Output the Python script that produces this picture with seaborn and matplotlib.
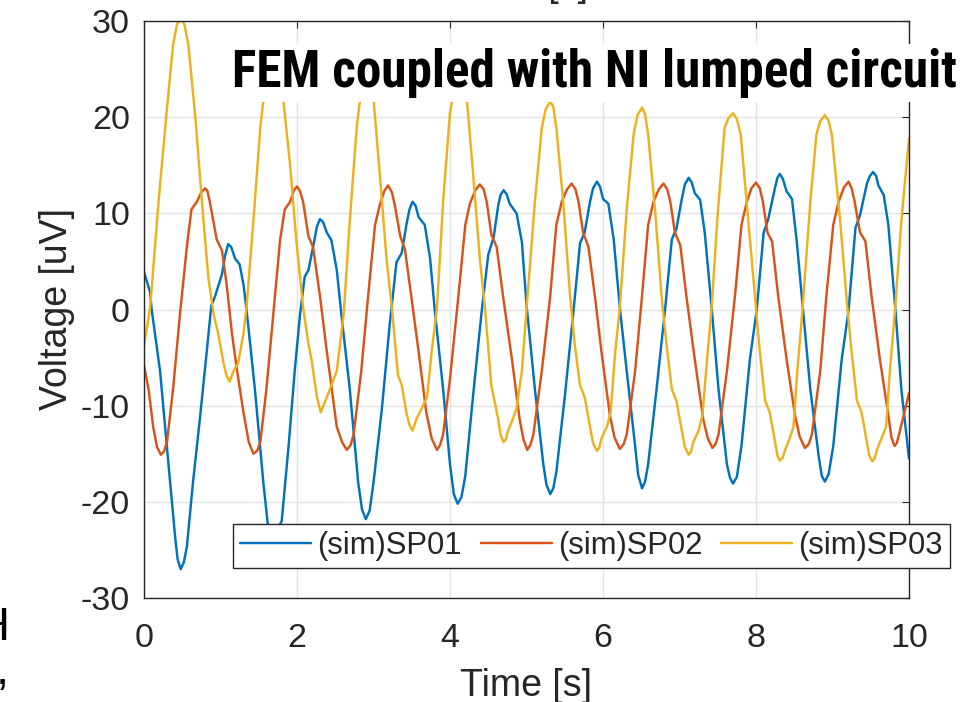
import numpy as np
import pandas as pd
import seaborn as sns
import matplotlib
matplotlib.use("Agg")
import matplotlib.pyplot as plt
from matplotlib import font_manager
from matplotlib.lines import Line2D

# ---------------- data ----------------
sp01_t = [0, 0.08, 0.10, 0.21, 0.32, 0.41, 0.48, 0.56, 0.64, 0.73, 0.82, 0.88, 0.93,
          1.02, 1.10, 1.19, 1.25, 1.30, 1.34, 1.45, 1.56, 1.67, 1.80, 1.89, 1.97,
          2.04, 2.10, 2.15, 2.21, 2.30, 2.39, 2.45, 2.52, 2.58, 2.69, 2.80, 2.90,
          3.00, 3.11, 3.21, 3.30, 3.37, 3.43, 3.51, 3.59, 3.67, 3.74, 3.80, 3.91,
          4.00, 4.10, 4.20, 4.30, 4.41, 4.50, 4.57, 4.63, 4.70, 4.78, 4.87, 4.94,
          5.00, 5.11, 5.22, 5.31, 5.39, 5.50, 5.61, 5.70, 5.76, 5.83, 5.92, 6.00,
          6.07, 6.14, 6.22, 6.31, 6.42, 6.51, 6.59, 6.70, 6.81, 6.90, 6.96, 7.03,
          7.12, 7.20, 7.27, 7.33, 7.42, 7.51, 7.62, 7.70, 7.81, 7.92, 8.01, 8.10,
          8.16, 8.25, 8.31, 8.40, 8.47, 8.53, 8.62, 8.71, 8.82, 8.90, 9.01, 9.12,
          9.21, 9.30, 9.36, 9.45, 9.53, 9.60, 9.67, 9.73, 9.82, 9.90, 10.0,
          0.44, 0.52, 1.63, 1.71, 2.85, 2.95, 4.05, 4.15, 5.26, 5.35, 6.46, 6.55,
          7.66, 7.75, 8.86, 8.95, 1.06, 1.14, 2.26, 2.34, 3.47, 3.55, 4.66, 4.74,
          5.87, 5.96, 7.07, 7.16, 8.28, 8.35, 9.49, 9.57]
sp01_v = [3.9, 1.8, 0.0, -6.4, -16.1, -23.9, -27.0, -24.7, -18.0, -11.4, -4.4, 0.4, 1.4,
          3.7, 6.8, 5.3, 4.7, 2.6, 0.0, -8.3, -18.0, -24.0, -22.0, -14.2, -6.4,
          -0.5, 3.4, 4.1, 6.5, 9.4, 8.0, 7.2, 4.1, -0.5, -8.3, -18.0, -21.8,
          -18.0, -10.3, -1.7, 4.9, 5.9, 8.8, 11.2, 9.6, 8.8, 5.3, 0.0, -8.3,
          -16.1, -20.2, -17.3, -9.1, -0.5, 5.7, 7.5, 10.8, 12.4, 11.0, 10.0, 7.0,
          0.5, -8.3, -16.1, -19.2, -16.9, -9.1, -0.5, 6.9, 8.0, 11.2, 13.3, 11.5,
          11.0, 7.3, 0.2, -6.4, -14.2, -18.6, -16.1, -8.3, -0.1, 7.3, 8.4, 11.5,
          13.7, 12.1, 11.4, 8.0, 0.2, -8.3, -16.1, -18.1, -14.2, -5.2, 0.0, 8.0,
          9.4, 12.7, 14.1, 12.3, 11.5, 7.3, -0.5, -8.3, -15.3, -17.9, -14.2, -5.2,
          -0.1, 8.5, 9.8, 13.1, 14.3, 12.9, 11.9, 8.8, 0.2, -8.3, -15.5,
          -26.0, -26.3, -23.2, -23.4, -20.8, -20.9, -19.2, -19.5, -18.2, -18.6, -17.2, -17.9,
          -17.5, -17.4, -17.3, -17.1, 5.6, 6.5, 8.6, 9.1, 10.4, 10.8, 11.9, 12.0,
          12.6, 12.8, 13.0, 13.2, 13.7, 13.6, 13.9, 13.9]

sp02_t = [0, 0.06, 0.12, 0.22, 0.30, 0.38, 0.47, 0.56, 0.62, 0.69, 0.80, 0.86, 0.95,
          1.02, 1.08, 1.15, 1.21, 1.30, 1.43, 1.52, 1.60, 1.69, 1.78, 1.84, 1.91,
          2.00, 2.08, 2.15, 2.21, 2.30, 2.39, 2.52, 2.65, 2.74, 2.84, 2.93, 3.02,
          3.08, 3.19, 3.28, 3.35, 3.41, 3.50, 3.59, 3.69, 3.83, 3.91, 4.00, 4.11,
          4.20, 4.26, 4.39, 4.48, 4.54, 4.61, 4.70, 4.81, 4.91, 5.01, 5.09, 5.20,
          5.31, 5.39, 5.46, 5.59, 5.68, 5.74, 5.81, 5.90, 5.98, 6.09, 6.22, 6.31,
          6.42, 6.51, 6.59, 6.66, 6.79, 6.88, 6.94, 7.01, 7.09, 7.20, 7.31, 7.43,
          7.51, 7.62, 7.73, 7.81, 7.88, 8.00, 8.09, 8.15, 8.21, 8.29, 8.40, 8.51,
          8.64, 8.73, 8.84, 8.92, 9.01, 9.08, 9.21, 9.29, 9.36, 9.43, 9.51, 9.62,
          9.73, 9.81, 9.87, 10.0,
          0.75, 0.83, 1.96, 2.04, 3.14, 3.24, 4.33, 4.44, 5.53, 5.64, 6.73, 6.84,
          7.94, 8.05, 9.15, 9.25, 0.17, 0.26, 1.37, 1.48, 2.59, 2.70, 3.76, 3.87,
          4.96, 5.05, 6.15, 6.27, 7.37, 7.47, 8.57, 8.69, 9.77, 9.84]
sp02_v = [-5.8, -8.3, -12.2, -15.1, -13.8, -8.3, -0.5, 6.5, 10.4, 11.2, 12.6, 11.2, 7.3,
          6.1, 2.6, -2.5, -6.0, -10.7, -15.0, -13.8, -8.3, -0.5, 7.3, 10.4, 11.2,
          12.8, 11.2, 7.6, 6.5, 1.4, -4.4, -12.2, -14.6, -13.0, -6.4, 1.4, 8.8,
          10.8, 12.9, 10.8, 7.6, 6.3, 1.0, -4.4, -10.7, -14.6, -13.0, -7.2, 1.4,
          8.8, 11.0, 13.0, 11.2, 7.8, 6.5, 1.0, -5.2, -11.4, -14.6, -13.0, -6.4,
          1.4, 8.8, 11.2, 13.1, 11.2, 8.0, 6.5, 1.0, -4.4, -11.0, -14.5, -13.0,
          -6.4, 1.4, 8.8, 11.2, 13.1, 11.2, 8.0, 6.7, 1.4, -5.2, -11.4, -14.4,
          -13.0, -6.4, 1.8, 8.8, 11.2, 13.2, 11.2, 8.0, 7.1, 1.4, -5.2, -11.0,
          -14.4, -13.0, -6.4, 1.4, 8.8, 11.2, 13.3, 11.2, 8.0, 7.1, 1.4, -5.2,
          -11.0, -14.2, -13.0, -8.7,
          12.2, 12.3, 12.4, 12.3, 12.3, 12.2, 12.4, 12.5, 12.5, 12.5, 12.5, 12.5,
          12.6, 12.6, 12.7, 12.6, -14.3, -14.8, -13.8, -14.7, -13.8, -14.1, -13.4, -14.1,
          -13.5, -14.1, -13.3, -14.0, -13.4, -14.0, -13.2, -14.0, -13.3, -13.9]

sp03_t = [0, 0.08, 0.19, 0.30, 0.38, 0.48, 0.58, 0.67, 0.75, 0.84, 0.91, 0.97, 1.04,
          1.12, 1.17, 1.23, 1.30, 1.34, 1.43, 1.52, 1.60, 1.69, 1.76, 1.82, 1.91,
          1.99, 2.08, 2.15, 2.19, 2.26, 2.31, 2.37, 2.43, 2.52, 2.61, 2.69, 2.78,
          2.85, 2.92, 2.97, 3.00, 3.08, 3.17, 3.24, 3.32, 3.37, 3.43, 3.51, 3.56,
          3.63, 3.70, 3.76, 3.83, 3.91, 4.00, 4.06, 4.12, 4.18, 4.22, 4.30, 4.39,
          4.46, 4.54, 4.63, 4.70, 4.76, 4.82, 4.87, 4.94, 5.00, 5.11, 5.20, 5.31,
          5.39, 5.48, 5.57, 5.63, 5.70, 5.76, 5.83, 5.92, 5.98, 6.05, 6.10, 6.16,
          6.22, 6.31, 6.40, 6.51, 6.59, 6.68, 6.77, 6.83, 6.90, 6.96, 7.03, 7.12,
          7.18, 7.25, 7.30, 7.36, 7.42, 7.50, 7.59, 7.70, 7.80, 7.90, 7.99, 8.05,
          8.12, 8.18, 8.25, 8.31, 8.38, 8.44, 8.49, 8.54, 8.61, 8.71, 8.79, 8.90,
          8.99, 9.10, 9.19, 9.25, 9.32, 9.38, 9.45, 9.52, 9.58, 9.64, 9.70, 9.75,
          9.82, 9.90, 10.0,
          0.43, 0.53, 5.25, 5.35, 6.45, 6.55, 7.64, 7.75, 8.84, 8.95,
          1.08, 3.47, 4.66, 4.73, 5.87, 5.95, 7.07, 7.15, 8.28, 8.35, 9.48, 9.55]
sp03_v = [-3.8, 0.2, 11.2, 20.9, 27.5, 30.4, 27.5, 20.1, 11.9, 3.4, -0.5, -2.5, -5.6,
          -7.5, -6.4, -5.6, -2.5, 0.2, 9.2, 18.9, 24.5, 27.0, 25.0, 21.9, 15.0,
          7.3, 0.2, -3.6, -5.2, -9.1, -10.7, -9.5, -8.3, -6.4, -0.5, 9.2, 18.9,
          23.5, 25.0, 23.5, 21.9, 14.3, 5.3, 0.2, -6.8, -7.9, -10.7, -12.6, -11.4,
          -10.3, -9.1, -4.4, 0.2, 11.2, 20.5, 23.0, 23.5, 23.0, 21.9, 14.3, 5.3,
          -0.1, -7.9, -11.4, -13.8, -12.6, -11.4, -10.3, -6.4, 0.0, 11.2, 18.9, 21.6,
          18.9, 11.2, 1.4, -3.6, -7.9, -9.1, -12.2, -14.7, -13.4, -12.2, -10.7, -4.4,
          0.2, 10.4, 18.2, 21.0, 18.2, 10.4, 1.0, -3.6, -8.3, -9.5, -12.6, -15.1,
          -13.8, -12.6, -11.0, -5.2, 0.2, 10.0, 18.9, 20.4, 18.2, 9.2, 1.0, -4.4,
          -9.5, -10.7, -13.8, -15.7, -14.6, -13.4, -12.2, -6.4, 0.2, 11.2, 18.2, 20.2,
          18.2, 9.2, 0.6, -4.4, -9.5, -10.7, -13.8, -15.8, -14.6, -13.4, -12.2, -6.4,
          0.2, 9.2, 17.8,
          29.6, 29.6, 20.8, 21.1, 20.2, 20.3, 19.9, 19.8, 19.6, 19.6,
          -6.9, -12.0, -13.0, -13.5, -13.9, -14.4, -14.3, -14.8, -15.2, -15.4, -15.2, -15.5]

series_names = ["(sim)SP01", "(sim)SP02", "(sim)SP03"]
x_ticks = [0, 2, 4, 6, 8, 10]
y_ticks = [-30, -20, -10, 0, 10, 20, 30]
title_text = "FEM coupled with NI lumped circuit"
x_label = "Time [s]"
y_label = "Voltage [uV]"

# ---------------- style ----------------
sns.set_theme(style="white")
plt.rcParams["font.family"] = ["Liberation Sans", "DejaVu Sans"]
plt.rcParams["axes.unicode_minus"] = False

colors = ["#0072BD", "#D95319", "#EDB120"]
dark = "#262626"


def find_narrow_bold():
    prefs = ["liberationsansnarrow-bold", "arialnarrow", "nimbussansnarrow-bold",
             "notosans-condensedbold", "robotocondensed-bold",
             "dejavusanscondensed-bold", "opensans_condensed-bold",
             "opensans-condensedbold"]
    files = [f.fname for f in font_manager.fontManager.ttflist]
    low = [p.lower().replace(" ", "") for p in files]
    for pref in prefs:
        for fn, lf in zip(files, low):
            base = lf.split("/")[-1]
            if pref in base and "italic" not in base and "oblique" not in base:
                return fn
    return None


df = pd.concat([
    pd.DataFrame({"t": sp01_t, "v": sp01_v, "series": series_names[0]}),
    pd.DataFrame({"t": sp02_t, "v": sp02_v, "series": series_names[1]}),
    pd.DataFrame({"t": sp03_t, "v": sp03_v, "series": series_names[2]}),
], ignore_index=True)

fig = plt.figure(figsize=(9.73, 7.02), dpi=100)
ax = fig.add_axes([144 / 973, 1 - 598 / 702, 765 / 973, 577 / 702])

sns.lineplot(data=df, x="t", y="v", hue="series", palette=colors, sort=True,
             estimator=None, linewidth=1.75, ax=ax, legend=False)

ax.set_xlim(0, 10)
ax.set_ylim(-30, 30)
ax.set_xticks(x_ticks)
ax.set_yticks(y_ticks)
ax.set_xticklabels([str(v) for v in x_ticks])
ax.set_yticklabels([str(v) for v in y_ticks])
ax.grid(True, color="#e3e3e3", linewidth=1.0)
ax.set_axisbelow(True)
for s in ax.spines.values():
    s.set_color(dark)
    s.set_linewidth(1.0)
ax.tick_params(direction="in", length=5, width=0.8, top=True, right=True,
               colors=dark, labelsize=24.5)
ax.tick_params(axis="x", pad=18)
ax.tick_params(axis="y", pad=10)

ax.set_xlabel(x_label, fontsize=27, color=dark, labelpad=10)
ax.set_ylabel(y_label, fontsize=27, color=dark, labelpad=4)

handles = [Line2D([], [], color=c, linewidth=1.75) for c in colors]
leg = ax.legend(handles, series_names, loc="center", bbox_to_anchor=(0.585, 0.090),
                ncol=3, fontsize=22.3, frameon=True, fancybox=False,
                framealpha=1, edgecolor=dark, handlelength=2.3, handletextpad=0.2,
                columnspacing=0.6, borderpad=0.22, borderaxespad=0)
leg.get_frame().set_linewidth(1.0)
leg.set_zorder(10)

narrow_file = find_narrow_bold()
if narrow_file:
    tprops = dict(fontproperties=font_manager.FontProperties(fname=narrow_file, size=38))
else:
    tprops = dict(family=["Liberation Sans"], fontweight="bold", fontsize=31)
title = ax.text((232 - 144) / 765, (598 - 87) / 577, title_text, transform=ax.transAxes,
                ha="left", va="baseline", clip_on=False, zorder=20, color="black",
                bbox=dict(facecolor="white", edgecolor="none", pad=3), **tprops)
# fit the title to the width it has in the reference (about 725 px)
fig.canvas.draw()
w = title.get_window_extent().width
if w > 0:
    title.set_fontsize(title.get_fontsize() * 725.0 / w)

# cut-off neighbouring texts at the image edges
fig.text(522 / 973, 1 + 4 / 702, x_label, ha="center", va="baseline",
         fontsize=27, color=dark)
fig.text(9 / 973, 1 - 640 / 702, "H", ha="right", va="baseline",
         fontsize=34, color="black")
fig.text(9 / 973, 1 - 684 / 702, ",", ha="right", va="baseline",
         fontsize=34, color="black")

fig.savefig("out.png", dpi=100)
